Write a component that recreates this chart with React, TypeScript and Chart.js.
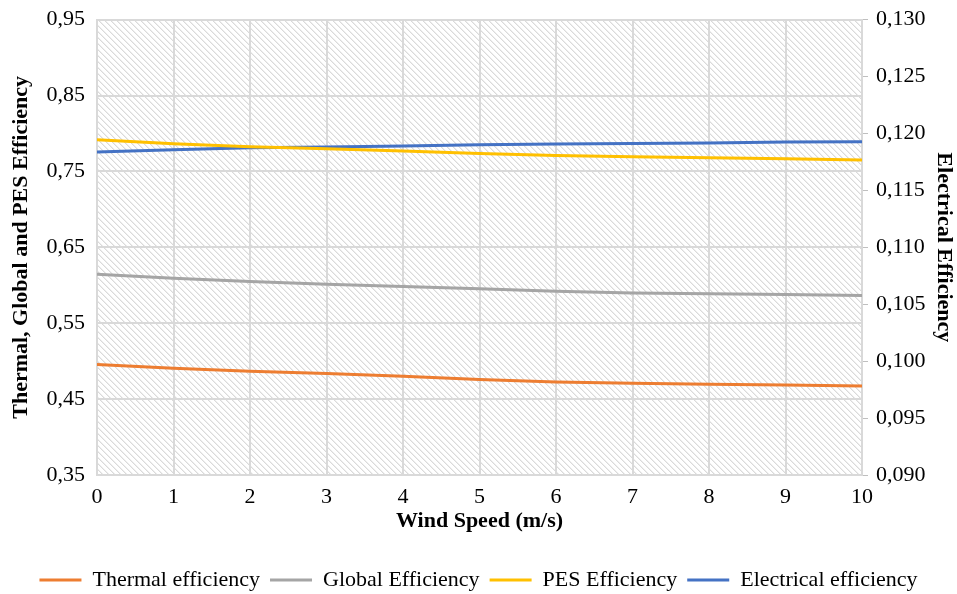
import React, { useEffect, useRef } from "react";
import { Chart, registerables } from "chart.js";

Chart.register(...registerables);

const windSpeed = [0, 1, 2, 3, 4, 5, 6, 7, 8, 9, 10];
const thermalEff = [0.4955, 0.4907, 0.4867, 0.4836, 0.4801, 0.4760, 0.4725, 0.4709, 0.4696, 0.4687, 0.4674];
const globalEff = [0.6146, 0.6094, 0.6049, 0.6015, 0.5983, 0.5953, 0.5922, 0.5900, 0.5887, 0.5878, 0.5864];
const pesEff = [0.7918, 0.7865, 0.7825, 0.7799, 0.7769, 0.7737, 0.7711, 0.7693, 0.7680, 0.7667, 0.7650];
const electricalEff = [0.11837, 0.11857, 0.11875, 0.11881, 0.1189, 0.11901, 0.11907, 0.11913, 0.11916, 0.11925, 0.11927];

const seriesNames = ["Thermal efficiency", "Global Efficiency", "PES Efficiency", "Electrical efficiency"];
const seriesColors = ["#ED7D31", "#A5A5A5", "#FFC000", "#4472C4"];

const FONT = "'Liberation Serif', 'Times New Roman', serif";
const FS = 22;
const W = 957;
const H = 601;
const AREA_LEFT = 97;
const AREA_RIGHT = 862;
const AREA_BOTTOM = 475;

function makePattern(ctx: CanvasRenderingContext2D) {
  const c = document.createElement("canvas");
  const p = 6;
  c.width = p;
  c.height = p;
  const g = c.getContext("2d")!;
  g.fillStyle = "#ffffff";
  g.fillRect(0, 0, p, p);
  for (let x = 0; x < p; x++) {
    for (let y = 0; y < p; y++) {
      const d = (((x - y) % p) + p) % p;
      if (d === 0) {
        g.fillStyle = "#dadada";
        g.fillRect(x, y, 1, 1);
      } else if (d === 1) {
        g.fillStyle = "#eeeeee";
        g.fillRect(x, y, 1, 1);
      }
    }
  }
  return ctx.createPattern(c, "repeat");
}

const hatchPlugin = {
  id: "hatchBg",
  beforeDraw(chart: any) {
    const { ctx, chartArea } = chart;
    if (!chartArea) return;
    const pat = makePattern(ctx);
    ctx.save();
    ctx.fillStyle = pat || "#eeeeee";
    ctx.fillRect(chartArea.left, chartArea.top, chartArea.right - chartArea.left, chartArea.bottom - chartArea.top);
    ctx.restore();
  },
};

export default function App() {
  const ref = useRef<HTMLCanvasElement>(null);

  useEffect(() => {
    const mk = (vals: number[]) => windSpeed.map((x, i) => ({ x, y: vals[i] }));
    const allVals = [thermalEff, globalEff, pesEff, electricalEff];
    const chart = new Chart(ref.current!, {
      type: "line",
      data: {
        datasets: allVals.map((vals, i) => ({
          label: seriesNames[i],
          data: mk(vals),
          borderColor: seriesColors[i],
          backgroundColor: seriesColors[i],
          borderWidth: 3,
          pointRadius: 0,
          tension: 0,
          yAxisID: i === 3 ? "y2" : "y",
        })),
      },
      options: {
        responsive: false,
        animation: false,
        layout: { padding: { top: 0, left: 0, right: 0, bottom: 0 } },
        plugins: {
          tooltip: { enabled: false },
          legend: {
            position: "bottom",
            labels: {
              color: "#000",
              font: { family: FONT, size: FS },
              boxWidth: 42,
              boxHeight: 0,
              padding: 10,
            },
          },
        },
        scales: {
          x: {
            type: "linear",
            min: 0,
            max: 10,
            ticks: { stepSize: 1, color: "#000", font: { family: FONT, size: FS }, padding: 9 },
            grid: { color: "#d9d9d9", lineWidth: 2, drawTicks: false },
            border: { color: "#d9d9d9", width: 2 },
            title: {
              display: true,
              text: "Wind Speed (m/s)",
              color: "#000",
              font: { family: FONT, size: FS, weight: "bold" },
              padding: { top: 0, bottom: 24 },
            },
            afterFit(scale: any) {
              const lh = scale.chart.legend ? scale.chart.legend.height : 40;
              scale.height = H - AREA_BOTTOM - lh;
            },
          },
          y: {
            position: "left",
            min: 0.35,
            max: 0.95,
            ticks: {
              stepSize: 0.1,
              color: "#000",
              font: { family: FONT, size: FS, lineHeight: 0.7 },
              padding: 12,
              callback: (v: any) => Number(v).toFixed(2).replace(".", ","),
            },
            grid: { color: "#d9d9d9", lineWidth: 2, drawTicks: false },
            border: { color: "#d9d9d9", width: 2 },
            title: {
              display: true,
              text: "Thermal, Global and PES Efficiency",
              color: "#000",
              font: { family: FONT, size: FS, weight: "bold" },
              padding: { top: 8, bottom: 0 },
            },
            afterFit(scale: any) {
              scale.width = AREA_LEFT;
            },
          },
          y2: {
            position: "right",
            min: 0.09,
            max: 0.13,
            ticks: {
              stepSize: 0.005,
              color: "#000",
              font: { family: FONT, size: FS, lineHeight: 0.7 },
              padding: 8,
              callback: (v: any) => Number(v).toFixed(3).replace(".", ","),
            },
            grid: { drawOnChartArea: false, drawTicks: true, tickLength: 6, color: "#bfbfbf", lineWidth: 1 },
            border: { color: "#d9d9d9", width: 2 },
            title: {
              display: true,
              text: "Electrical Efficiency",
              color: "#000",
              font: { family: FONT, size: FS, weight: "bold" },
              padding: { top: 0, bottom: 0 },
            },
            afterFit(scale: any) {
              scale.width = W - AREA_RIGHT;
            },
          },
        },
      } as any,
      plugins: [hatchPlugin],
    });
    return () => chart.destroy();
  }, []);

  return (
    <div style={{ position: "fixed", left: 0, top: 0, width: W, height: 594, overflow: "hidden", background: "#fff" }}>
      <canvas ref={ref} width={W} height={H} style={{ display: "block" }} />
    </div>
  );
}
